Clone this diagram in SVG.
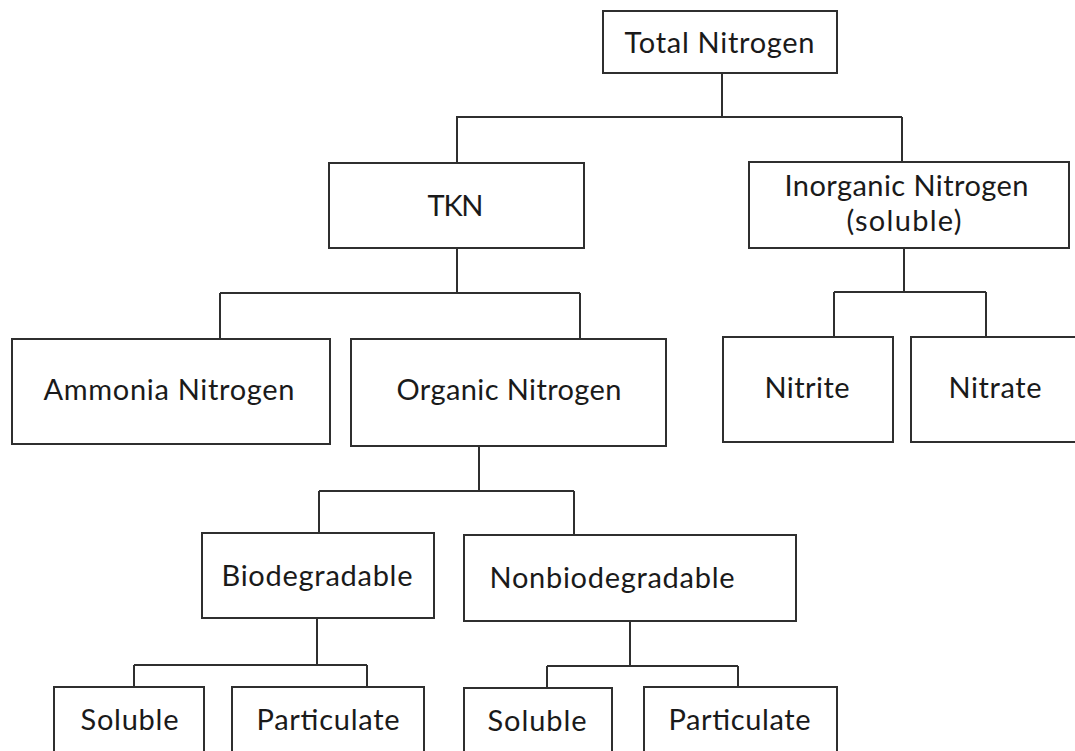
<svg xmlns="http://www.w3.org/2000/svg" width="1075" height="751" viewBox="0 0 1075 751">
<style>
.box{fill:#fff;stroke:#2f2f2f;stroke-width:2}
.lbl{font-family:Lato,"Open Sans","Liberation Sans",sans-serif;font-size:29px;fill:#1a1a1a;text-anchor:middle}
.con{fill:none;stroke:#2f2f2f;stroke-width:2}
</style>
<rect width="1075" height="751" fill="#fff"/>
<g id="connectors" class="con">
<path d="M722 73V117M456 117H902M457 117V163M902 117V162"/>
<path d="M457 248V293M220 293H580M220 293V339M580 293V339"/>
<path d="M904 248V292M834 292H986M834 292V337M986 292V337"/>
<path d="M479 446V491M319 491H574M319 491V533M574 491V535"/>
<path d="M317 618V665M134 665H367M134 665V687M367 665V687"/>
<path d="M630 621V666M547 666H738M547 666V688M738 666V687"/>
</g>
<g id="total-nitrogen"><rect class="box" x="603" y="11" width="234" height="62"/><text class="lbl" x="719.5" y="53" textLength="190">Total Nitrogen</text></g>
<g id="tkn"><rect class="box" x="329" y="163" width="255" height="85"/><text class="lbl" x="455.5" y="216" textLength="56">TKN</text></g>
<g id="inorganic-nitrogen"><rect class="box" x="749" y="162" width="320" height="86"/><text class="lbl" x="906.5" y="196" textLength="244">Inorganic Nitrogen</text><text class="lbl" x="904" y="231" textLength="115">(soluble)</text></g>
<g id="ammonia-nitrogen"><rect class="box" x="12" y="339" width="318" height="105"/><text class="lbl" x="169" y="400" textLength="251">Ammonia Nitrogen</text></g>
<g id="organic-nitrogen"><rect class="box" x="351" y="339" width="315" height="107"/><text class="lbl" x="509" y="400" textLength="225">Organic Nitrogen</text></g>
<g id="nitrite"><rect class="box" x="723" y="337" width="170" height="105"/><text class="lbl" x="807" y="398" textLength="85">Nitrite</text></g>
<g id="nitrate"><rect class="box" x="911" y="337" width="170" height="105"/><text class="lbl" x="995" y="398" textLength="93">Nitrate</text></g>
<g id="biodegradable"><rect class="box" x="202" y="533" width="232" height="85"/><text class="lbl" x="317" y="586" textLength="191">Biodegradable</text></g>
<g id="nonbiodegradable"><rect class="box" x="464" y="535" width="332" height="86"/><text class="lbl" x="612" y="588" textLength="245">Nonbiodegradable</text></g>
<g id="bio-soluble"><rect class="box" x="54" y="687" width="150" height="80"/><text class="lbl" x="129.5" y="730" textLength="98">Soluble</text></g>
<g id="bio-particulate"><rect class="box" x="232" y="687" width="192" height="80"/><text class="lbl" x="328" y="730" textLength="143">Particulate</text></g>
<g id="nonbio-soluble"><rect class="box" x="464" y="688" width="148" height="80"/><text class="lbl" x="537" y="731" textLength="99">Soluble</text></g>
<g id="nonbio-particulate"><rect class="box" x="644" y="687" width="193" height="80"/><text class="lbl" x="739.5" y="730" textLength="142">Particulate</text></g>
</svg>
